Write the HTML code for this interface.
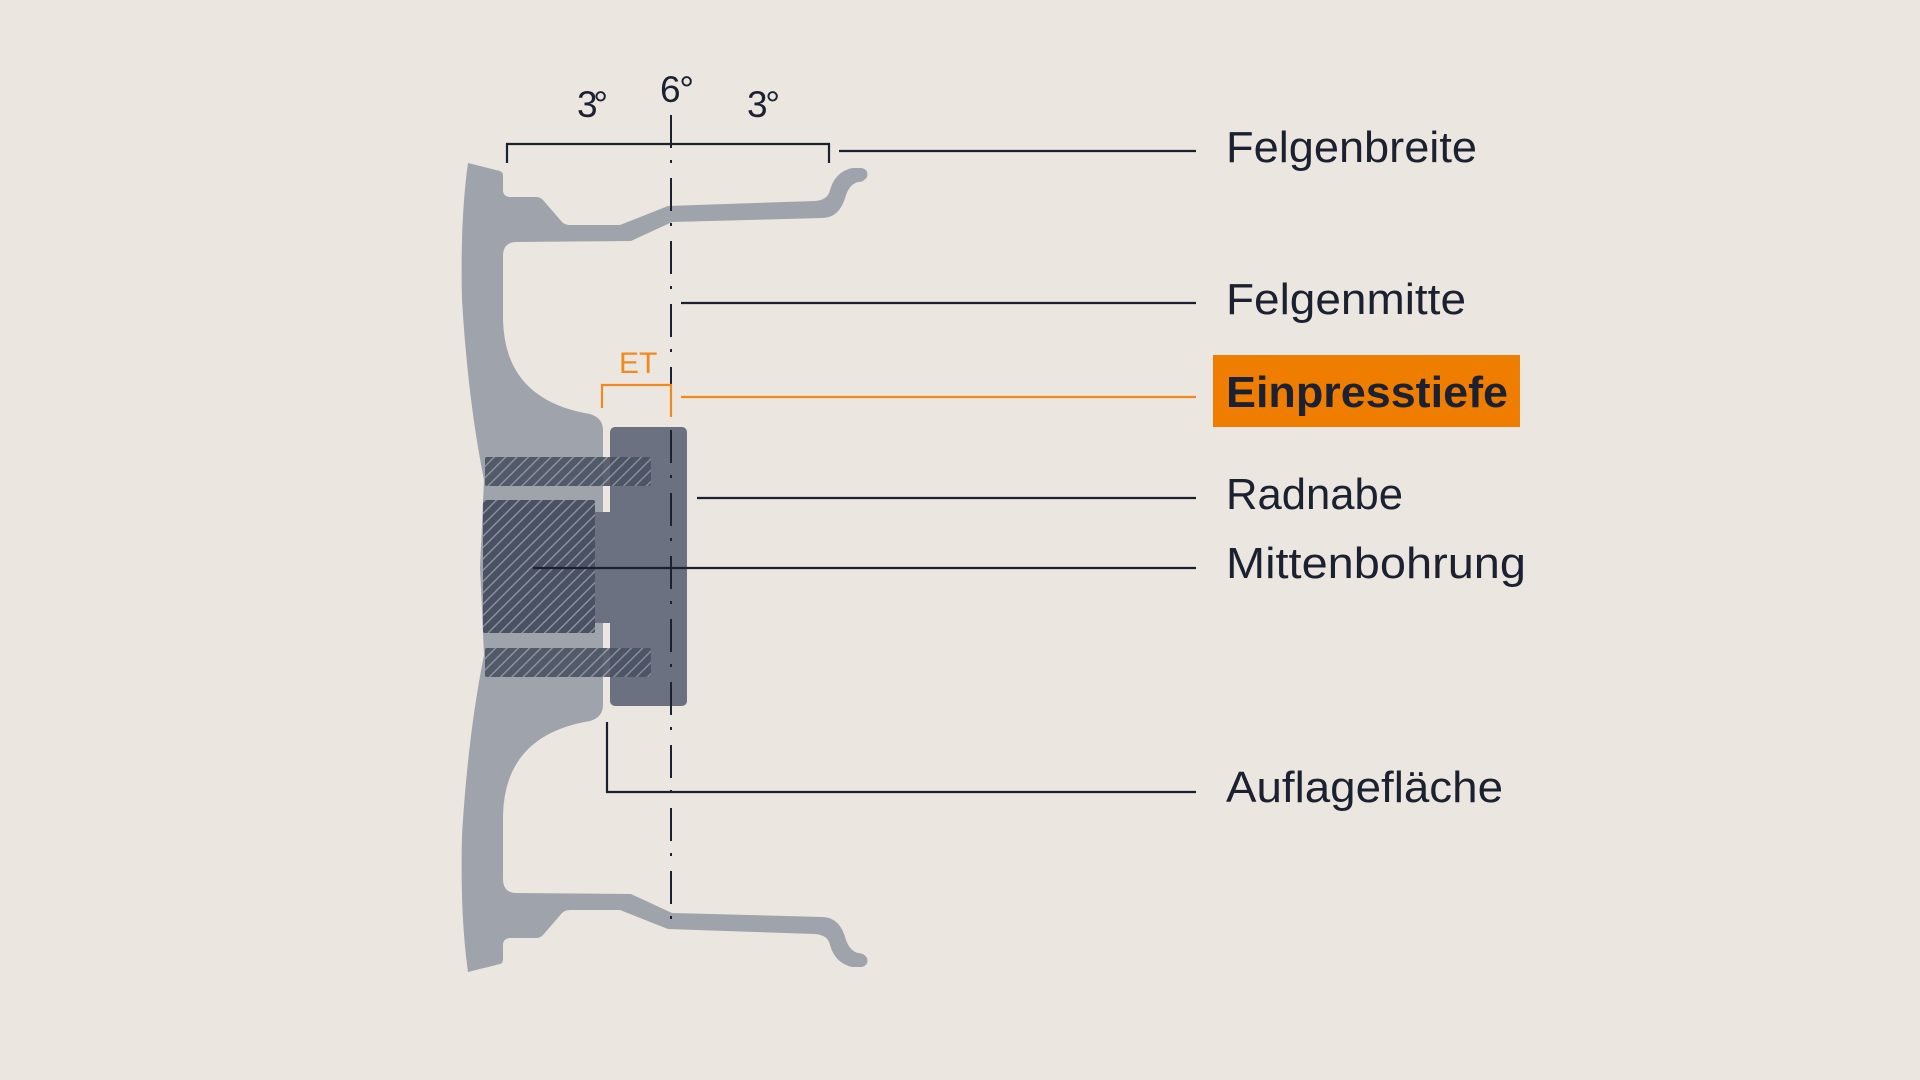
<!DOCTYPE html>
<html><head><meta charset="utf-8"><style>
html,body{margin:0;padding:0;background:#ebe6df;}
svg{display:block;}
text{font-family:"Liberation Sans",sans-serif;fill:#1c2132;}
</style></head><body>
<svg width="1920" height="1080" viewBox="0 0 1920 1080" xmlns="http://www.w3.org/2000/svg">
<defs>
<pattern id="h" patternUnits="userSpaceOnUse" width="8" height="8" patternTransform="rotate(45)">
<rect width="8" height="8" fill="#4a5162"/>
<rect x="0" y="0" width="1.4" height="8" fill="#8c93a3"/>
</pattern>
</defs>
<rect width="1920" height="1080" fill="#ebe6df"/>
<!-- rim -->
<g fill="#9fa3ab">
<path id="rimTop" d="M468 163 L500 171 Q503 172 503 176 L503 190 Q503 197 511 197 L536 197 Q540 197 543 200 L562 222 Q565 225 570 225 L620 225 L668 206 L815 201 Q828 200 830 190 Q835 172 852 168 L862 168 Q869 170 867 177 Q864 182 858 182 Q850 184 846 195 Q840 218 822 218 L672 222 L631 241 L515 242 Q503 243 503 256 L503 320 Q505 400 590 414 Q603 418 603 430 L603 568 L480 568 L484 480 Q468 400 462 300 Q460 220 468 163 Z"/>
<use href="#rimTop" transform="matrix(1,0,0,-1,0,1135)"/>
</g>
<!-- hub -->
<rect x="610" y="427" width="77" height="279" rx="5" fill="#6b7180"/>
<rect x="592" y="512" width="24" height="111" fill="#6b7180"/>
<!-- bolts -->
<rect x="485" y="457" width="166" height="29" rx="2" fill="url(#h)" opacity="0.9"/>
<rect x="485" y="648" width="166" height="29" rx="2" fill="url(#h)" opacity="0.9"/>
<!-- bore -->
<rect x="483" y="500" width="112" height="133" rx="2" fill="url(#h)"/>
<!-- centerline -->
<line x1="671" y1="115" x2="671" y2="928" stroke="#1c2132" stroke-width="2" stroke-dasharray="33 12 3 15"/>
<!-- bracket -->
<path d="M507 163 V144 H829 V163" fill="none" stroke="#1c2132" stroke-width="2.2"/>
<text x="577" y="117" font-size="37" textLength="31">3°</text>
<text x="660" y="102" font-size="37" textLength="34">6°</text>
<text x="747" y="117" font-size="37" textLength="33">3°</text>
<!-- ET -->
<path d="M602 408 V385 H671 V417" fill="none" stroke="#f08a1e" stroke-width="2.2"/>
<text x="619" y="373" font-size="30" style="fill:#f08a1e">ET</text>
<!-- leader lines -->
<g stroke="#1c2132" stroke-width="2.2" fill="none">
<line x1="839" y1="151" x2="1196" y2="151"/>
<line x1="681" y1="303" x2="1196" y2="303"/>
<line x1="697" y1="498" x2="1196" y2="498"/>
<line x1="533" y1="568" x2="1196" y2="568"/>
<path d="M607 722 V792 H1196"/>
</g>
<line x1="681" y1="397" x2="1196" y2="397" stroke="#f08a1e" stroke-width="2.2"/>
<!-- labels -->
<text x="1226" y="162" font-size="44" textLength="251" lengthAdjust="spacingAndGlyphs">Felgenbreite</text>
<text x="1226" y="314" font-size="44" textLength="240" lengthAdjust="spacingAndGlyphs">Felgenmitte</text>
<rect x="1213" y="355" width="307" height="72" fill="#ef7d00"/>
<text x="1226" y="407" font-size="44" font-weight="bold" textLength="282" lengthAdjust="spacingAndGlyphs">Einpresstiefe</text>
<text x="1226" y="509" font-size="44" textLength="177" lengthAdjust="spacingAndGlyphs">Radnabe</text>
<text x="1226" y="578" font-size="44" textLength="300" lengthAdjust="spacingAndGlyphs">Mittenbohrung</text>
<text x="1226" y="802" font-size="44" textLength="277" lengthAdjust="spacingAndGlyphs">Auflagefläche</text>
</svg>
</body></html>
